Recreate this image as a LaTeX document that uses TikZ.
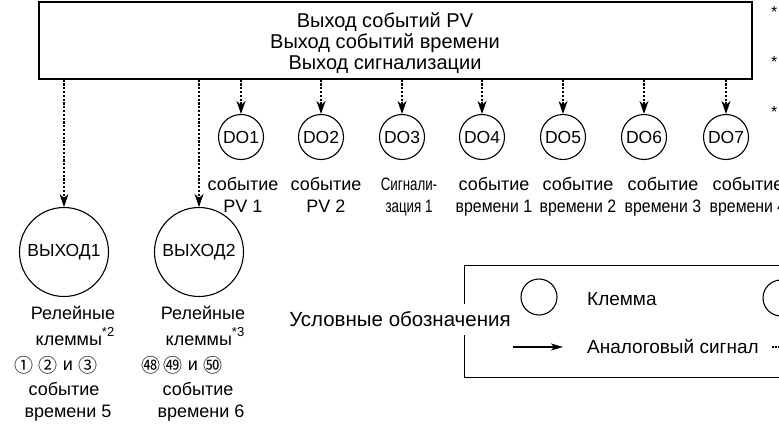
\documentclass[tikz,border=0pt]{standalone}
\usepackage{fontspec}
\usepackage{graphicx}
\setmainfont{Liberation Sans}
\newfontfamily\circfont{Noto Sans CJK JP}
\usetikzlibrary{arrows.meta}

\tikzset{
  lbl/.style={font=\fontsize{18}{20}\selectfont, inner sep=0pt, anchor=base},
  boxline/.style={font=\fontsize{20}{22}\selectfont, inner sep=0pt, anchor=base},
  doterm/.style={circle, draw, line width=1.1pt, minimum size=45pt, inner sep=0pt,
                 font=\fontsize{17.5}{18}\selectfont},
  bigterm/.style={circle, draw, line width=1.1pt, minimum size=89pt, inner sep=0pt,
                 font=\fontsize{17.5}{18}\selectfont},
  sigflow/.style={line width=1.2pt, dash pattern=on 2.2pt off 1.6pt,
                  -{Stealth[length=13pt, width=9pt, inset=4pt]}},
  anflow/.style={line width=1.1pt, -{Stealth[length=12pt, width=7pt, inset=3pt]}},
  star/.style={font=\fontsize{16}{16}\selectfont, inner sep=0pt, anchor=base west},
}
\newcommand{\supnote}[1]{{\fontsize{13}{13}\selectfont\raisebox{9pt}{#1}}}
\newcommand{\circnum}[1]{{\circfont\fontsize{19}{19}\selectfont #1}}
\newcommand{\narrowtxt}[1]{\scalebox{0.88}[1]{#1}}

\begin{document}
\begin{tikzpicture}[x=1pt, y=-1pt]
  \useasboundingbox (0,0) rectangle (779,429);
  \clip (0,0) rectangle (779,429);

  % event output block
  \node[draw, line width=1.1pt, minimum width=713pt, minimum height=77pt, inner sep=0pt]
       (outbox) at (395.5,40.5) {};
  \node[boxline] (l1) at (385,27) {Выход событий PV};
  \node[boxline] (l2) at (385,48) {Выход событий времени};
  \node[boxline] (l3) at (385,69) {Выход сигнализации};

  % footnote marks at the right edge
  \node[star] (s1) at (771,17) {*};
  \node[star] (s2) at (771,67) {*};
  \node[star] (s3) at (771,117) {*};

  % digital outputs
  \node[doterm] (do1) at (241,137) {DO1};
  \node[doterm] (do2) at (321,137) {DO2};
  \node[doterm] (do3) at (402,137) {DO3};
  \node[doterm] (do4) at (482,137) {DO4};
  \node[doterm] (do5) at (563,137) {DO5};
  \node[doterm] (do6) at (644,137) {DO6};
  \node[doterm] (do7) at (726,137) {DO7};
  \foreach \d in {do1,do2,do3,do4,do5,do6,do7}
    \draw[sigflow] (outbox.south -| \d.north) -- (\d.north);

  % labels under the digital outputs
  \node[lbl] (t1a) at (243,190) {событие};
  \node[lbl] (t1b) at (243,212) {PV 1};
  \node[lbl] (t2a) at (326,190) {событие};
  \node[lbl] (t2b) at (326,212) {PV 2};
  \node[lbl] (t3a) at (409,190) {\scalebox{0.74}[1]{Сигнали-}};
  \node[lbl] (t3b) at (409,212) {\scalebox{0.74}[1]{зация 1}};
  \node[lbl] (t4a) at (494,190) {событие};
  \node[lbl] (t4b) at (494,212) {\narrowtxt{времени 1}};
  \node[lbl] (t5a) at (578,190) {событие};
  \node[lbl] (t5b) at (578,212) {\narrowtxt{времени 2}};
  \node[lbl] (t6a) at (663,190) {событие};
  \node[lbl] (t6b) at (663,212) {\narrowtxt{времени 3}};
  \node[lbl] (t7a) at (748,190) {событие};
  \node[lbl] (t7b) at (748,212) {\narrowtxt{времени 4}};

  % relay outputs
  \node[bigterm] (out1) at (64,252) {ВЫХОД1};
  \node[bigterm] (out2) at (199,252) {ВЫХОД2};
  \draw[sigflow] (outbox.south -| out1.north) -- (out1.north);
  \draw[sigflow] (outbox.south -| out2.north) -- (out2.north);

  \node[lbl] (r1a) at (73,319) {Релейные};
  \node[lbl] (r1b) at (75,345) {клеммы\supnote{*2}};
  \node[lbl] (r1c) at (56,372) {\circnum{①} \circnum{②} \raisebox{2pt}{и} \circnum{③}};
  \node[lbl] (r1d) at (64,395) {событие};
  \node[lbl] (r1e) at (68,417) {времени 5};

  \node[lbl] (r2a) at (203,319) {Релейные};
  \node[lbl] (r2b) at (205,345) {клеммы\supnote{*3}};
  \node[lbl] (r2c) at (182,372) {\circnum{㊽}\,\circnum{㊾} \raisebox{2pt}{и} \circnum{㊿}};
  \node[lbl] (r2d) at (198,395) {событие};
  \node[lbl] (r2e) at (201,417) {времени 6};

  % legend
  \node[draw, line width=1.1pt, minimum width=400pt, minimum height=112pt, inner sep=0pt,
        anchor=north west] (legend) at (464,265) {};
  \node[fill=white, inner xsep=0pt, minimum height=31pt, font=\fontsize{20.5}{22}\selectfont]
       (legtitle) at (400,319) {Условные обозначения};
  \node[circle, draw, line width=1.1pt, minimum size=36pt, inner sep=0pt] (legterm) at (539,297) {};
  \node[lbl, anchor=base west, font=\fontsize{19}{21}\selectfont] (legtermtxt) at (587,305) {Клемма};
  \node[circle, draw, line width=1.1pt, minimum size=36pt, inner sep=0pt] (legterm2) at (781,298) {};
  \coordinate (la1) at (513,347);
  \coordinate (la2) at (563,347);
  \draw[anflow] (la1) -- (la2);
  \node[lbl, anchor=base west, font=\fontsize{19}{21}\selectfont] (legantxt) at (587,353) {Аналоговый сигнал};
  \coordinate (ld1) at (772,347);
  \coordinate (ld2) at (800,347);
  \draw[line width=1.1pt, dash pattern=on 1.6pt off 1.6pt] (ld1) -- (ld2);
\end{tikzpicture}
\end{document}
